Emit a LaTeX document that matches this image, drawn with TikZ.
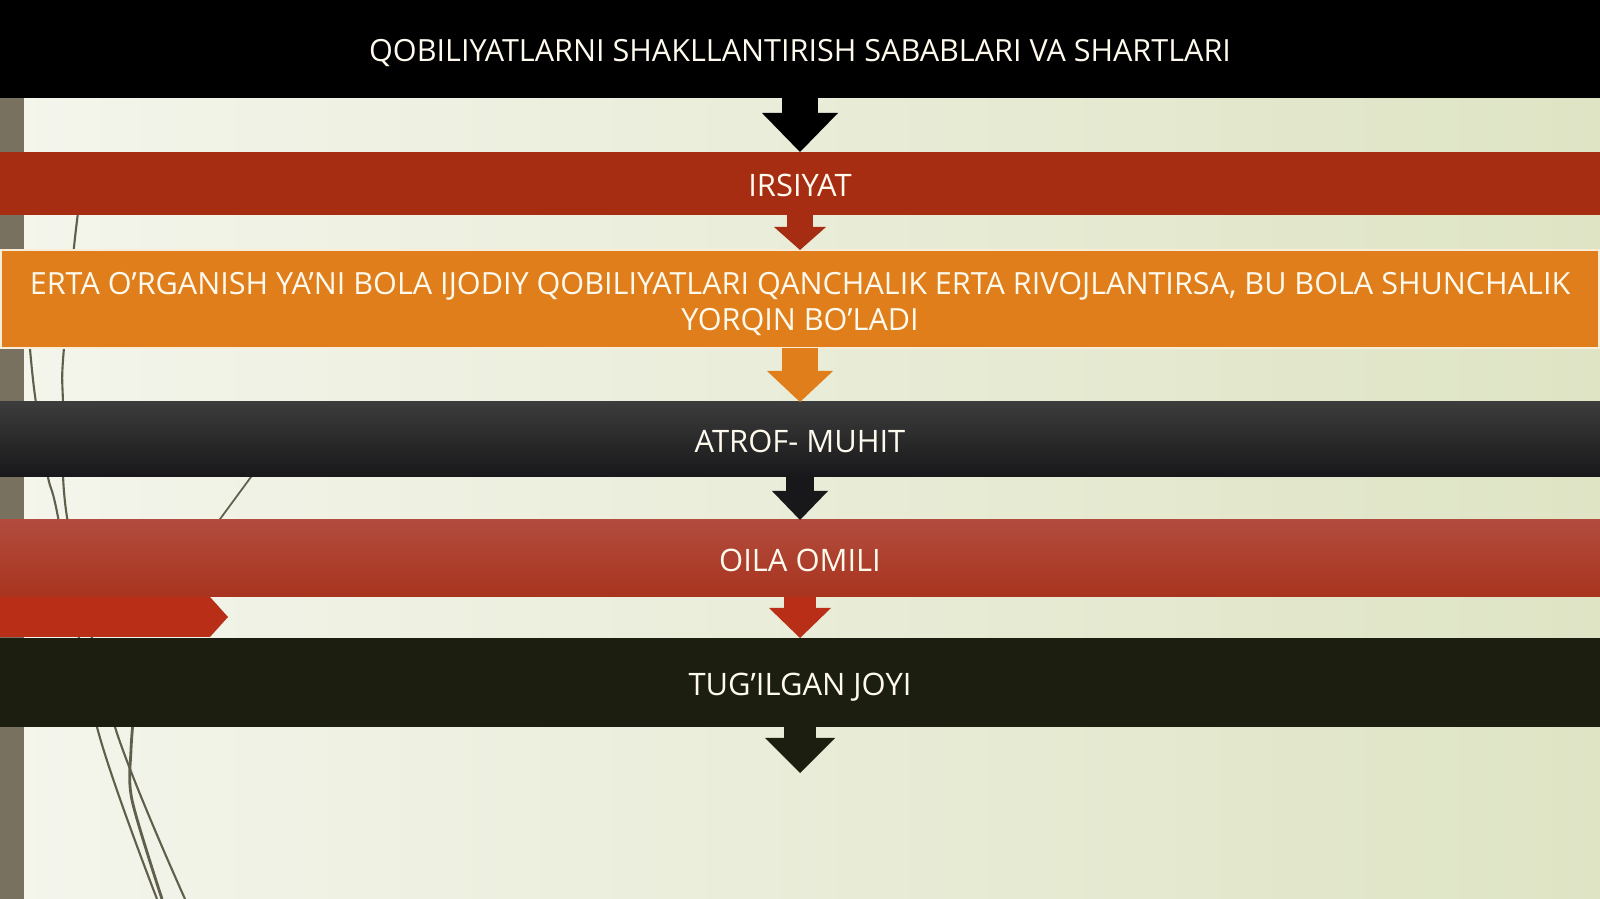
\documentclass[tikz,border=0pt]{standalone}
\usepackage{fontspec}
\setmainfont{Open Sans}
\usetikzlibrary{arrows.meta}

\definecolor{bgleft}{RGB}{244,245,236}
\definecolor{bgright}{RGB}{222,228,196}
\definecolor{strip}{RGB}{120,113,95}
\definecolor{wisp}{RGB}{95,95,75}
\definecolor{irsred}{RGB}{166,44,18}
\definecolor{ertaorange}{RGB}{224,126,28}
\definecolor{ertaedge}{RGB}{250,236,215}
\definecolor{atroftop}{RGB}{60,60,60}
\definecolor{atrofbot}{RGB}{24,24,26}
\definecolor{oilatop}{RGB}{178,76,62}
\definecolor{oilabot}{RGB}{168,52,30}
\definecolor{tabred}{RGB}{184,46,22}
\definecolor{tugdark}{RGB}{28,31,16}
\definecolor{textwhite}{RGB}{255,250,238}

\begin{document}
\begin{tikzpicture}[
  bar/.style = {minimum width = 16cm, inner sep = 0pt, outer sep = 0pt, anchor = north,
                text = textwhite, font = \fontsize{8.8}{10.5}\selectfont, align = center,
                text height = 7.2pt, text depth = 0pt},
  flow/.style n args = {3}{line width = #1,
                -{Triangle[width = #2, length = #3, line width = 0pt]}}
  ]
  %background
  \useasboundingbox (0,0) rectangle (16,-8.99);
  \shade[left color = bgleft, right color = bgright] (0,0) rectangle (16,-8.99);
  \fill[strip] (0,-0.98) rectangle (0.24,-8.99);

  %wisps
  \draw[wisp, line width = 0.6pt] plot[smooth] coordinates
    {(0.79,-2.05) (0.74,-2.47) (0.63,-3.6) (0.63,-4.03) (0.67,-5.17) (1.15,-7.27) (1.85,-8.99)};
  \draw[wisp, line width = 0.6pt] plot[smooth] coordinates
    {(0.26,-3.0) (0.31,-3.6) (0.36,-4.03) (0.48,-4.77) (0.58,-5.17) (0.97,-7.27) (1.57,-8.99)};
  \draw[wisp, line width = 0.8pt] plot[smooth] coordinates
    {(1.35,-7.0) (1.31,-7.5) (1.32,-8.0) (1.62,-8.99)};
  \draw[wisp, line width = 0.5pt] (2.62,-4.62) -- (2.12,-5.30);

  %bars
  \node[bar, fill = black, minimum height = 0.98cm, font = \fontsize{8.7}{10}\selectfont]
    (title) at (8,0) {QOBILIYATLARNI SHAKLLANTIRISH SABABLARI VA SHARTLARI};
  \node[bar, fill = irsred, minimum height = 0.63cm] (irsiyat) at (8,-1.52) {IRSIYAT};
  \node[bar, fill = ertaorange, draw = ertaedge, line width = 0.6pt, minimum width = 15.98cm,
        minimum height = 0.98cm, text height = , text depth = ,
        font = \fontsize{8.7}{10.2}\selectfont] (erta) at (8,-2.50)
    {\rule{0pt}{9pt}ERTA O’RGANISH YA’NI BOLA IJODIY QOBILIYATLARI QANCHALIK ERTA RIVOJLANTIRSA, BU BOLA SHUNCHALIK\\
     YORQIN BO’LADI};
  \node[bar, top color = atroftop, bottom color = atrofbot, minimum height = 0.75cm]
    (atrof) at (8,-4.02) {ATROF- MUHIT};
  \node[bar, top color = oilatop, bottom color = oilabot, minimum height = 0.77cm]
    (oila) at (8,-5.20) {OILA OMILI};
  \fill[tabred] (0,-5.97) -- (2.10,-5.97) -- (2.28,-6.17) -- (2.10,-6.37) -- (0,-6.37) -- cycle;
  \node[bar, fill = tugdark, minimum height = 0.89cm] (tug) at (8,-6.38) {TUG’ILGAN JOYI};
  \coordinate (end) at (8,-7.73);

  %arrows
  \draw[black, flow = {3.6mm}{7.6mm}{3.9mm}] (title.south) -- (irsiyat.north);
  \draw[irsred, flow = {2.6mm}{5.2mm}{2.3mm}] (irsiyat.south) -- (erta.north);
  \draw[ertaorange, flow = {3.6mm}{6.6mm}{3.1mm}] (erta.south) -- (atrof.north);
  \draw[atrofbot, flow = {2.8mm}{5.6mm}{2.9mm}] (atrof.south) -- (oila.north);
  \draw[tabred, flow = {3.2mm}{6.2mm}{3.0mm}] (oila.south) -- (tug.north);
  \draw[tugdark, flow = {3.2mm}{7.0mm}{3.5mm}] (tug.south) -- (end);
\end{tikzpicture}
\end{document}
